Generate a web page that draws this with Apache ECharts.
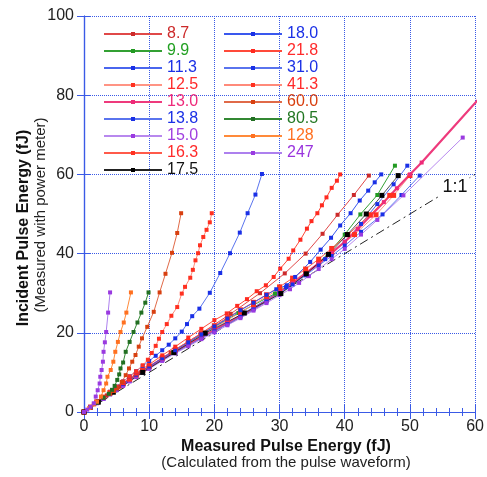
<!DOCTYPE html>
<html><head><meta charset="utf-8">
<script src="https://cdn.jsdelivr.net/npm/echarts@6/dist/echarts.min.js"></script>
<style>html,body{margin:0;padding:0;background:#fff}#c{width:487px;height:477px}</style>
</head><body><div id="c"></div>
<script>
// ---- data ----
const seriesNames = ['8.7','9.9','11.3','12.5','13.0','13.8','15.0','16.3','17.5','18.0','21.8','31.0','41.3','60.0','80.5','128','247'];
const xTicks = [0,10,20,30,40,50,60];
const yTicks = [0,20,40,60,80,100];
const oneToOne = [[0,0],[60,60]];
const d8_7 = [[0,0],[1.6,2],[3.5,4.2],[5.5,6.4],[8.7,10],[13.3,15],[17.9,19.8],[22.5,24.8],[27,30],[30.8,35],[34,40],[36.6,45],[38.9,49.8],[41.4,54.8],[43.7,59.7]];
const d9_9 = [[0,0],[2,2.3],[4.4,5],[8.9,10],[13.7,15],[18.5,20],[23.7,25],[29.3,29.9],[34.2,34.9],[37.4,39.9],[40,44.8],[42.4,49.9],[45,54.8],[47.7,62.2]];
const d11_3 = [[0,0],[1,1.2],[2,2.4],[3,3.5],[4,4.7],[5,5.8],[6,6.9],[7,8],[8,9.1],[9,10.2],[10,11.3],[12,13.3],[14,15.3],[16,17.2],[18,19],[20,20.8],[22,22.6],[24,24.5],[26,26.4],[28,28.4],[31,31.5],[34,34.8],[37,38.6],[40,43],[42.5,47.5],[45,52.5],[47.5,57.5],[49.6,62.2]];
const d12_5 = [[0,0],[1,1.2],[2,2.5],[3,3.7],[4,4.9],[5,6],[6,7.1],[7,8.2],[8,9.3],[9,10.4],[10,11.5],[12,13.6],[14,15.6],[16,17.5],[18,19.4],[20,21.3],[22,23.2],[24,25.1],[26,27.1],[28,29.2],[30,31],[32,33],[34,35.2],[36,37.6],[38,40.2],[41.5,44.8],[44.8,49.8],[47.5,54.7],[50,59.7]];
const d13_0 = [[0,0],[1,1.2],[2,2.4],[3,3.6],[4,4.7],[5,5.9],[6,7],[7,8.1],[8,9.2],[9,10.2],[10,11.3],[12,13.3],[14,15.2],[16,17],[18,18.8],[20,20.6],[22,22.4],[24,24.2],[26,26],[28,28],[30,30.2],[32,32.5],[34,35],[36,37.5],[38,40.2],[40,43],[42,46.2],[44,49.6],[46,53],[48,56.5],[50,60],[51.8,63],[62,81.7]];
const d13_8 = [[0,0],[1,1.1],[2,2.3],[3,3.4],[4,4.6],[5,5.7],[6,6.8],[7,7.9],[8,9],[9,10.1],[10,11.1],[12,13.1],[14,15],[16,16.8],[18,18.6],[20,20.4],[22,22.2],[24,24],[26,25.9],[28,27.9],[30,30],[32,32.2],[34,34.5],[36,37],[38,39.4],[40,42],[42.5,45.5],[45.8,49.9],[48.7,54.8],[51.5,59.7]];
const d15_0 = [[0,0],[1,1.1],[2,2.2],[3,3.3],[4,4.4],[5,5.5],[6,6.6],[7,7.7],[8,8.8],[9,9.9],[10,10.9],[12,12.9],[14,14.8],[16,16.6],[18,18.4],[20,20.1],[22,21.9],[24,23.7],[26,25.6],[28,27.5],[30,29.5],[31.6,31],[33,32.6],[34.5,34.3],[36,36.1],[38,38.6],[40,41.2],[42.5,44.8],[45,48.5],[49,54.7],[58.1,69.3]];
const d16_3 = [[0,0],[1,1.2],[2,2.5],[3,3.7],[4,4.9],[5,6.1],[6,7.2],[7,8.3],[8,9.4],[9,10.5],[10,11.6],[12,13.7],[14,15.8],[16,17.8],[18,19.8],[20,21.8],[22,23.8],[24,25.8],[26,27.7],[28,29.6],[30,31.6],[32,33.8],[34,36.1],[36,38.6],[38,41.3],[40.5,44.8],[43.9,49.8],[46.9,54.7]];
const d17_5 = [[0,0],[2.2,2.5],[4.5,5],[9,10],[13.8,15],[18.6,19.9],[24.6,25],[30.2,29.9],[34.1,34.9],[37.5,39.8],[40.4,44.8],[43.3,50],[45.7,54.7],[48.2,59.7]];
const d18_0 = [[0,0],[1,1.2],[2,2.4],[3,3.6],[4,4.8],[5,6],[6,7.1],[8,9.4],[10,11.5],[12,13.6],[14,15.6],[16,17.6],[18,19.6],[20,21.6],[22,23.6],[24,25.7],[26,27.6],[28,29.6],[29.5,31],[31.1,32],[32.4,34.1],[34.7,37.9],[36.3,41],[37.9,44],[39.3,47.1],[40.9,50.2],[42.3,53.4],[43.6,55.9],[44.6,58],[45.6,60]];
const d21_8 = [[0,0],[1,1.2],[2,2.5],[3,3.7],[4,4.9],[5,6.1],[6,7.3],[8,9.7],[10,12],[12,14.3],[14,16.5],[16,18.8],[18,21],[20,23.2],[21.9,24.9],[23.5,26.8],[25,28.5],[26.5,30.5],[27.9,32],[29.1,34.1],[30.1,36.2],[31.4,38.7],[32.1,40.8],[33.2,43.5],[34.2,46.3],[34.9,48.2],[35.8,50.2],[36.5,52.2],[37.2,54.2],[38,56.6],[38.8,58.4],[39.3,60]];
const d31_0 = [[0,0],[1,1.2],[2,2.5],[3,3.8],[4,5.1],[5,6.4],[6,7.7],[7,9],[8,10.3],[9,11.6],[10,12.9],[11,14.2],[12,15.6],[13,17],[14,18.6],[15,20.3],[15.8,22.2],[16.6,24.2],[17.7,26.1],[19.3,30.1],[20.9,35.1],[22.4,40.1],[23.9,45.3],[25.1,50.2],[26.3,54.9],[27.3,60.1]];
const d41_3 = [[0,0],[1,1.2],[2,2.5],[3,3.8],[4,5.1],[5,6.4],[6,7.7],[7,9],[8,10.3],[9,11.8],[9.8,13.2],[10.4,14.9],[11,16.7],[11.5,18.5],[12,20.2],[12.7,22.2],[13.4,24.3],[14.3,26.5],[15,29.9],[15.5,31.6],[16.3,33.9],[16.7,35.9],[17.1,38.3],[17.5,40.1],[17.8,42.1],[18.3,44.2],[18.8,46],[19.3,47.9],[19.6,50.2]];
const d60_0 = [[0,0],[1,1.2],[2,2.5],[3,3.8],[4,4.6],[4.6,5.3],[5.1,6],[5.8,7.6],[6.4,9.3],[6.9,11],[7.4,12.7],[7.9,14.4],[8.4,16.5],[8.9,18.6],[9.7,21.5],[10.7,25.3],[11.6,30.2],[12.5,34.9],[13.5,40.2],[14.3,45.2],[14.9,50.2]];
const d80_5 = [[0,0],[1,1.2],[2,2.4],[3,3.6],[3.8,4.6],[4.3,5.6],[4.7,6.6],[5.1,8.1],[5.4,9.5],[5.6,11],[6,12.5],[6.4,15.2],[7,17.7],[7.6,20.2],[8.2,22.6],[8.8,25.1],[9.4,27.6],[9.9,30.2]];
const d128 = [[0,0],[0.8,1],[1.5,1.9],[2,2.6],[2.6,3.9],[3,5.5],[3.4,7.2],[3.6,8.9],[4.1,10.6],[4.5,12.7],[4.8,15.2],[5.2,17.7],[5.6,20.2],[6.1,22.6],[6.5,25.1],[7.2,30.2]];
const d247 = [[0,0],[0.5,0.6],[1,1.3],[1.5,2.2],[1.8,3.9],[2.1,5.5],[2.4,7.2],[2.5,8.9],[2.7,10.6],[2.9,12.7],[3,15.2],[3.2,17.6],[3.4,20.2],[3.7,25.1],[4,30.2]];

const seriesData = [d8_7,d9_9,d11_3,d12_5,d13_0,d13_8,d15_0,d16_3,d17_5,d18_0,d21_8,d31_0,d41_3,d60_0,d80_5,d128,d247];
const lineColors = ['#e04848','#33a033','#4a66ee','#ff9484','#ee3a7c','#5a74ee','#b888ee','#ff5a4a','#222222','#3a58ee','#ff4a3a','#5a74ee','#ff8a7a','#e06a48','#338833','#ff8a3a','#ad80ee'];
const markColors = ['#cc2a2a','#229a22','#1a30e6','#ff3020','#ee2a78','#1a30e6','#9a3ae0','#ff3020','#000000','#1a30e6','#ff2a20','#1a30e6','#ff3020','#d84010','#226f22','#ff7020','#9a3ae0'];
const textColors = ['#cc2a2a','#22a022','#1a30e6','#ff2a2a','#ee2a7a','#1a30e6','#a040e0','#ff2a2a','#111111','#1a30e6','#ff2a2a','#1a30e6','#ff2a2a','#d84010','#227722','#ff7020','#9933dd'];

const FONT = '"Liberation Sans", Arial, Helvetica, sans-serif';
const AX = '#3a5ae6';

const series = seriesNames.map((n, i) => ({
  type: 'line', name: n, data: seriesData[i],
  symbol: 'rect', symbolSize: (n === '17.5' || n === '12.5' || n === '16.3') ? 5 : 4,
  showSymbol: true, showAllSymbol: true, clip: true,
  lineStyle: { color: lineColors[i], width: n === '13.0' ? 2.2 : (n === '17.5' ? 0.8 : 1) },
  itemStyle: { color: markColors[i] },
  emphasis: { disabled: true }, animation: false, z: 3
}));
series.unshift({
  type: 'line', name: '1:1', data: oneToOne, symbol: 'none', silent: true,
  lineStyle: { color: '#222', width: 1, type: [9, 4, 2, 4] }, animation: false, z: 2
});

const legendItem = (n, i) => ({ name: n, textStyle: { color: textColors[i] } });
const legendBase = {
  orient: 'vertical', top: 25.5, padding: 0, itemWidth: 58, itemHeight: 5, itemGap: 0,
  selectedMode: false,
  textStyle: { fontSize: 16, lineHeight: 17, fontFamily: FONT }
};

const chart = echarts.init(document.getElementById('c'), null, { renderer: 'canvas' });
chart.setOption({
  animation: false,
  backgroundColor: '#fff',
  grid: { left: 84, right: 11, top: 16, bottom: 65, show: false },
  legend: [
    Object.assign({}, legendBase, { left: 103, data: seriesNames.slice(0, 9).map((n, i) => legendItem(n, i)) }),
    Object.assign({}, legendBase, { left: 223, data: seriesNames.slice(9).map((n, i) => legendItem(n, i + 9)) })
  ],
  xAxis: [
    { type: 'value', min: xTicks[0], max: xTicks[xTicks.length - 1], interval: 10, position: 'bottom',
      axisLine: { show: true, lineStyle: { color: AX, width: 1.2 } },
      axisTick: { show: true, inside: true, length: 7, lineStyle: { color: AX } },
      minorTick: { show: true, splitNumber: 5, length: 4, lineStyle: { color: AX } },
      splitLine: { show: true, lineStyle: { color: AX, type: 'dotted', width: 1 } },
      axisLabel: { fontSize: 16, color: '#222', margin: 7, fontFamily: FONT } },
    { type: 'value', min: xTicks[0], max: xTicks[xTicks.length - 1], interval: 10, position: 'top',
      axisLine: { show: true, lineStyle: { color: AX, width: 1.2 } },
      axisTick: { show: true, inside: true, length: 7, lineStyle: { color: AX } },
      minorTick: { show: true, splitNumber: 5, length: 4, lineStyle: { color: AX } },
      splitLine: { show: false }, axisLabel: { show: false } }
  ],
  yAxis: [
    { type: 'value', min: yTicks[0], max: yTicks[yTicks.length - 1], interval: 20, position: 'left',
      axisLine: { show: true, lineStyle: { color: AX, width: 1.2 } },
      axisTick: { show: true, inside: true, length: 7, lineStyle: { color: AX } },
      splitLine: { show: true, lineStyle: { color: AX, type: 'dotted', width: 1 } },
      axisLabel: { fontSize: 16, color: '#222', margin: 10, fontFamily: FONT } },
    { type: 'value', min: yTicks[0], max: yTicks[yTicks.length - 1], interval: 20, position: 'right',
      axisLine: { show: true, lineStyle: { color: AX, width: 1.2 } },
      axisTick: { show: true, inside: true, length: 7, lineStyle: { color: AX } },
      splitLine: { show: false }, axisLabel: { show: false } }
  ],
  series: series,
  graphic: [
    { type: 'text', x: 286, y: 447, silent: true,
      style: { text: 'Measured Pulse Energy (fJ)', font: 'bold 16px ' + FONT, fill: '#111', align: 'center', verticalAlign: 'middle', textAlign: 'center', textVerticalAlign: 'middle' } },
    { type: 'text', x: 286, y: 463, silent: true,
      style: { text: '(Calculated from the pulse waveform)', font: '15px ' + FONT, fill: '#222', align: 'center', verticalAlign: 'middle', textAlign: 'center', textVerticalAlign: 'middle' } },
    { type: 'text', x: 24, y: 228, rotation: Math.PI / 2, silent: true,
      style: { text: 'Incident Pulse Energy (fJ)', font: 'bold 16px ' + FONT, fill: '#111', align: 'center', verticalAlign: 'middle', textAlign: 'center', textVerticalAlign: 'middle' } },
    { type: 'text', x: 41, y: 215, rotation: Math.PI / 2, silent: true,
      style: { text: '(Measured with power meter)', font: '15px ' + FONT, fill: '#222', align: 'center', verticalAlign: 'middle', textAlign: 'center', textVerticalAlign: 'middle' } },
    { type: 'text', x: 455, y: 187, silent: true, z: 10,
      style: { text: '1:1', font: '18px ' + FONT, fill: '#111', align: 'center', verticalAlign: 'middle', textAlign: 'center', textVerticalAlign: 'middle', backgroundColor: '#fff', padding: [1, 2] } }
  ]
});
</script>
</body></html>
